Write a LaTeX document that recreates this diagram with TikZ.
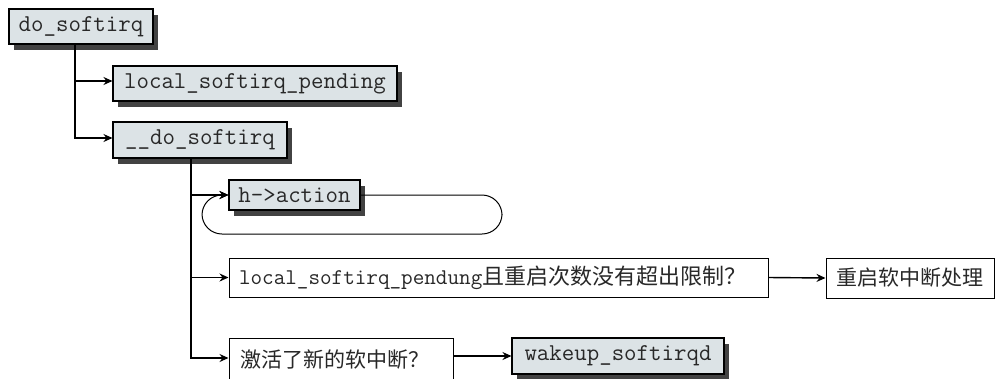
\documentclass[tikz,border=0pt]{standalone}
\usepackage{fontspec}
\newfontfamily\cjk{Noto Sans CJK SC}
\usetikzlibrary{arrows.meta,shadows}
\definecolor{boxfill}{RGB}{220,227,230}
\definecolor{shadowc}{RGB}{66,66,66}
\definecolor{txt}{RGB}{40,40,40}
\begin{document}
\begin{tikzpicture}[x=1pt,y=-1pt,
  fnbox/.style={draw=black, line width=1.1pt, fill=boxfill, text=txt,
    drop shadow={shadow xshift=5pt,shadow yshift=-6pt,fill=shadowc,opacity=1},
    inner sep=0pt, font=\fontsize{24.2}{26}\selectfont\ttfamily},
  qbox/.style={draw=black, line width=1pt, fill=white, inner ysep=0pt, inner xsep=10pt, text=txt,
    align=left, font=\fontsize{21}{24}\selectfont\cjk},
  arr/.style={line width=1.4pt, -{Stealth[length=9pt,width=8pt,inset=3pt]}},
  looparr/.style={line width=1pt, rounded corners=20pt, -{Stealth[length=9pt,width=8pt,inset=3pt]}}]
\clip (0,0) rectangle (995,378);
\fill[white] (0,0) rectangle (995,378);
% function boxes
\node[fnbox, minimum width=144pt, minimum height=35pt] (n1) at (81,26.5) {do\_softirq};
\node[fnbox, minimum width=284pt, minimum height=35pt] (n2) at (255,83.5) {local\_softirq\_pending};
\node[fnbox, minimum width=174pt, minimum height=36pt] (n3) at (200,140) {\_\_do\_softirq};
\node[fnbox, minimum width=131pt, minimum height=30pt] (n4) at (294.5,195) {h->action};
\node[fnbox, minimum width=212pt, minimum height=36pt] (n8) at (618,356) {wakeup\_softirqd};
% question / plain boxes
\node[qbox, text width=519pt, minimum height=39pt] (n5) at (498.5,277.5)
  {{\fontsize{22.5}{24}\selectfont\ttfamily local\_softirq\_pendung}{\fontsize{22}{24}\selectfont 且重启次数没有超出限制？}};
\node[qbox, inner xsep=0pt, minimum width=168pt, minimum height=40pt, align=center] (n6) at (910,278) {重启软中断处理};
\node[qbox, inner xsep=11pt, text width=202pt, minimum height=44pt] (n7) at (341,360) {激活了新的软中断？};
% trunks
\coordinate (t1) at (75,0);
\coordinate (t2) at (191,0);
\draw[arr] (n1.south -| t1) |- ([yshift=2.5pt]n2.west);
\draw[arr] (n1.south -| t1) |- ([yshift=2pt]n3.west);
\draw[arr] (n3.south -| t2) |- (n4.west);
\draw[arr] (n3.south -| t2) |- (n5.west);
\draw[arr] (n3.south -| t2) |- ([yshift=2pt]n7.west);
\draw[arr] (n5.east) -- (n6.west);
\draw[arr] (n7.east |- n8.west) -- (n8.west);
% loop
\draw[looparr] (n4.east) -- (502,195) -- (502,234) -- (202,234) -- (202,195) -- (n4.west);
\end{tikzpicture}
\end{document}
